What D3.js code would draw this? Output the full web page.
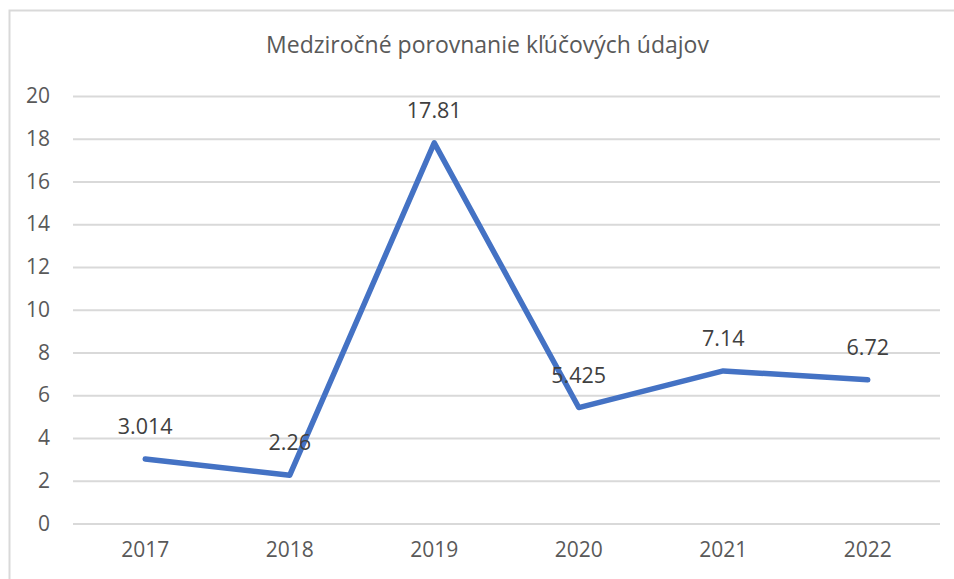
<!DOCTYPE html>
<html><head><meta charset="utf-8">
<script src="https://cdn.jsdelivr.net/npm/d3@7"></script>
<style>body{margin:0;background:#fff}svg{display:block}text{font-family:"Open Sans",sans-serif}</style>
</head><body><svg id="c" width="954" height="579"></svg>
<script>
const title = "Medziročné porovnanie kľúčových údajov";
const years = ["2017","2018","2019","2020","2021","2022"];
const values = [3.014, 2.26, 17.81, 5.425, 7.14, 6.72];
const labels = ["3.014","2.26","17.81","5.425","7.14","6.72"];
const yTicks = [0,2,4,6,8,10,12,14,16,18,20];

const svg = d3.select("#c");
svg.append("rect").attr("x",9.5).attr("y",10.5).attr("width",960).attr("height",600)
  .attr("fill","#fff").attr("stroke","#d9d9d9").attr("stroke-width",2);

const x = d3.scaleBand().domain(years).range([73,940]).padding(0);
const y = d3.scaleLinear().domain([0,20]).range([523.5,96]);

svg.append("text").attr("x",487.5).attr("y",53).attr("text-anchor","middle")
  .attr("font-size",23).attr("fill","#595959").text(title);

const gy = svg.append("g").attr("transform","translate(73,0)")
  .call(d3.axisLeft(y).tickValues(yTicks).tickSize(-867).tickPadding(23));
gy.select(".domain").remove();
gy.selectAll(".tick line").attr("stroke","#d9d9d9").attr("stroke-width",2);
gy.selectAll(".tick text").attr("font-size",21).attr("fill","#595959").attr("font-family","Open Sans");

const gx = svg.append("g").attr("transform","translate(0,523.5)")
  .call(d3.axisBottom(x).tickSize(0).tickPadding(19));
gx.select(".domain").remove();
gx.selectAll(".tick text").attr("font-size",21).attr("fill","#595959").attr("font-family","Open Sans");

const pts = years.map((d,i)=>({k:d,v:values[i],l:labels[i]}));
svg.append("path").datum(pts)
  .attr("d", d3.line().x(d=>x(d.k)+x.bandwidth()/2).y(d=>y(d.v)))
  .attr("fill","none").attr("stroke","#4472C4").attr("stroke-width",5.5)
  .attr("stroke-linejoin","round").attr("stroke-linecap","round");

svg.selectAll(".dl").data(pts).enter().append("text")
  .attr("x",d=>x(d.k)+x.bandwidth()/2).attr("y",d=>y(d.v)-25)
  .attr("text-anchor","middle").attr("font-size",21.5).attr("fill","#404040").text(d=>d.l);
</script></body></html>
